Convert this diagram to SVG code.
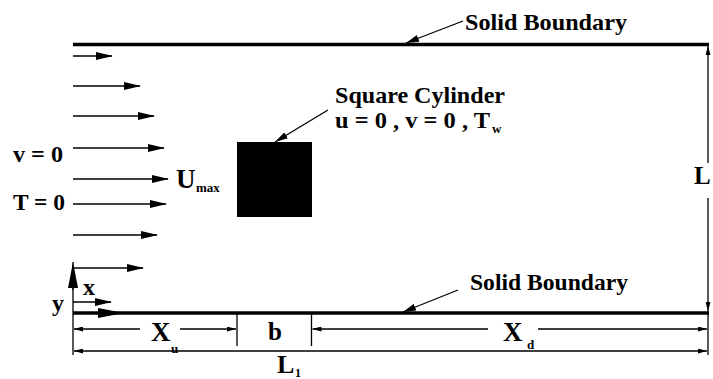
<svg xmlns="http://www.w3.org/2000/svg" width="713" height="379" viewBox="0 0 713 379">
<style>
.t{font-family:"Liberation Serif","DejaVu Serif",serif;font-weight:bold;fill:#000}
.big{font-size:24px}
.sub{font-size:13px}
.wall{stroke:#000;stroke-width:3.5;fill:none}
.thin{stroke:#000;stroke-width:1.3;fill:none}
.flow{stroke:#000;stroke-width:1.5;fill:none;marker-end:url(#ah)}
.dim{stroke:#000;stroke-width:1.3;fill:none}
</style>
<defs>
<marker id="ah" viewBox="0 0 17 8" refX="16" refY="4" markerWidth="17" markerHeight="8" markerUnits="userSpaceOnUse" orient="auto"><path d="M0,0 L17,4 L0,8 z" fill="#000"/></marker>
<marker id="dh" viewBox="0 0 9 5" refX="9" refY="2.5" markerWidth="9" markerHeight="5" markerUnits="userSpaceOnUse" orient="auto-start-reverse"><path d="M0,0 L9,2.5 L0,5 z" fill="#000"/></marker>
<marker id="lh" viewBox="0 0 13 7" refX="13" refY="3.5" markerWidth="13" markerHeight="7" markerUnits="userSpaceOnUse" orient="auto"><path d="M0,0 L13,3.5 L0,7 z" fill="#000"/></marker>
<marker id="axh" viewBox="0 0 26 10" refX="26" refY="5" markerWidth="26" markerHeight="10" markerUnits="userSpaceOnUse" orient="auto"><path d="M0,0 L26,5 L0,10 z" fill="#000"/></marker>
</defs>
<rect width="713" height="379" fill="#fff"/>

<g id="wall-top"><line class="wall" x1="73" y1="44.5" x2="709" y2="44.5"/></g>
<g id="wall-bottom"><line class="wall" x1="73" y1="313" x2="709" y2="313"/></g>
<g id="cylinder"><rect x="237" y="142" width="75" height="75" fill="#000"/></g>

<g id="inflow">
<line class="flow" x1="73" y1="56" x2="112" y2="56"/>
<line class="flow" x1="73" y1="86" x2="140" y2="86"/>
<line class="flow" x1="73" y1="116" x2="154" y2="116"/>
<line class="flow" x1="73" y1="148" x2="164" y2="148"/>
<line class="flow" x1="73" y1="179" x2="168" y2="179"/>
<line class="flow" x1="73" y1="204" x2="166" y2="204"/>
<line class="flow" x1="73" y1="235" x2="157" y2="235"/>
<line class="flow" x1="73" y1="268" x2="143" y2="268"/>
</g>

<g id="axes">
<line class="thin" x1="73" y1="355" x2="73" y2="286" />
<line stroke="#000" stroke-width="1.3" x1="73" y1="290" x2="73" y2="262" marker-end="url(#axh)"/>
<line stroke="#000" stroke-width="2" x1="73" y1="313" x2="124" y2="313" marker-end="url(#axh)"/>
<line class="flow" x1="73" y1="302" x2="111" y2="302"/>
</g>

<g id="connectors">
<line class="thin" x1="463" y1="21" x2="406" y2="43" marker-end="url(#lh)"/>
<line class="thin" x1="458" y1="290" x2="403" y2="312" marker-end="url(#lh)"/>
<line class="thin" x1="328" y1="110" x2="275" y2="142" marker-end="url(#lh)"/>
<line class="dim" x1="708" y1="163" x2="708" y2="46" marker-end="url(#dh)"/>
<line class="dim" x1="708" y1="198" x2="708" y2="311" marker-end="url(#dh)"/>
<line class="thin" x1="708" y1="311" x2="708" y2="355"/>
<line class="thin" x1="237" y1="314" x2="237" y2="346"/>
<line class="thin" x1="311.5" y1="314" x2="311.5" y2="346"/>
<line class="dim" x1="74" y1="329" x2="140" y2="329" marker-start="url(#dh)"/>
<line class="dim" x1="180" y1="329" x2="236" y2="329" marker-end="url(#dh)"/>
<line class="dim" x1="312.5" y1="329" x2="488" y2="329" marker-start="url(#dh)"/>
<line class="dim" x1="538" y1="329" x2="707" y2="329" marker-end="url(#dh)"/>
<line class="dim" x1="74" y1="351" x2="707" y2="351" marker-start="url(#dh)" marker-end="url(#dh)"/>
</g>

<g id="labels">
<text class="t big" x="465" y="30" textLength="162" lengthAdjust="spacingAndGlyphs">Solid Boundary</text>
<text class="t big" x="470" y="290" textLength="158" lengthAdjust="spacingAndGlyphs">Solid Boundary</text>
<text class="t big" x="335" y="103" textLength="170" lengthAdjust="spacingAndGlyphs">Square Cylinder</text>
<text class="t big" x="335" y="128" textLength="155" lengthAdjust="spacingAndGlyphs">u = 0 , v = 0 , T</text>
<text class="t sub" x="492" y="133">w</text>
<text class="t big" x="13" y="162" textLength="50" lengthAdjust="spacingAndGlyphs">v = 0</text>
<text class="t big" x="13" y="210" textLength="52" lengthAdjust="spacingAndGlyphs">T = 0</text>
<text class="t" font-size="27" x="176" y="188">U</text>
<text class="t sub" x="196" y="192">max</text>
<text class="t big" x="83" y="295">x</text>
<text class="t big" x="52" y="311">y</text>
<text class="t" font-size="27" x="151" y="341">X</text>
<text class="t sub" x="171" y="353">u</text>
<text class="t" font-size="25" x="268" y="340">b</text>
<text class="t" font-size="27" x="503" y="341">X</text>
<text class="t sub" x="527" y="349">d</text>
<text class="t" font-size="26" x="277" y="373">L</text>
<text class="t" font-size="12" x="295" y="377">1</text>
<text class="t" font-size="25" x="694" y="184">L</text>
</g>
</svg>
